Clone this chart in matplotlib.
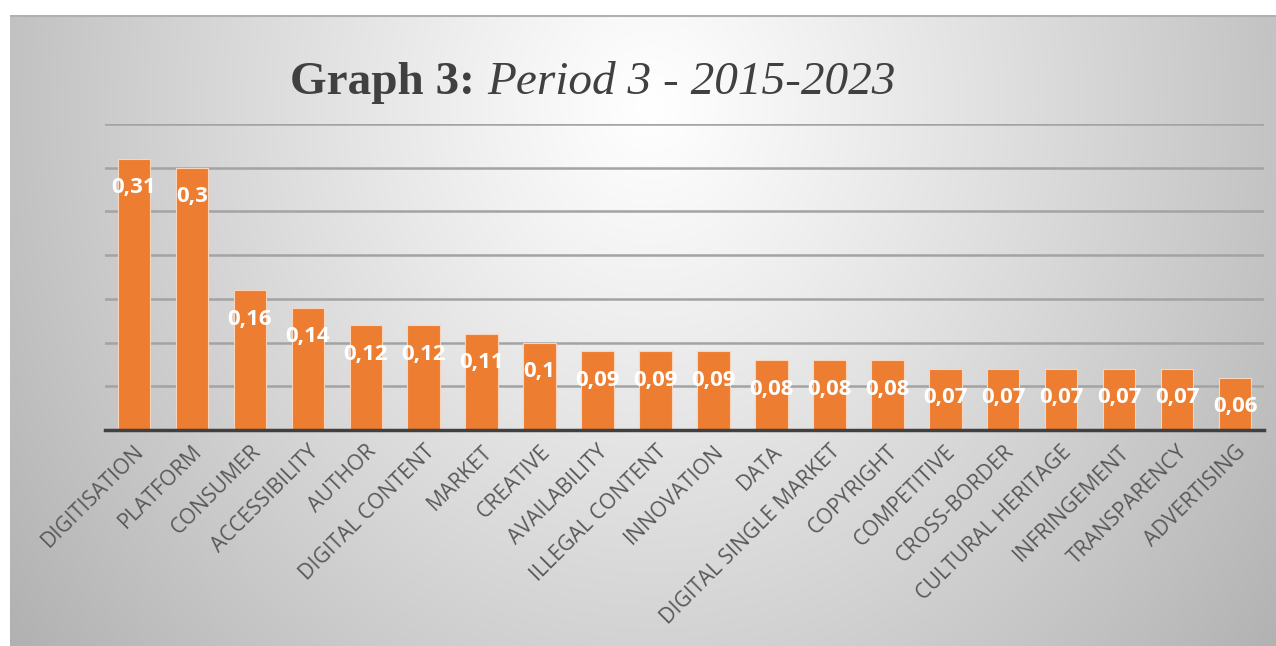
import numpy as np
import matplotlib
matplotlib.use("Agg")
import matplotlib.pyplot as plt

categories = ["DIGITISATION", "PLATFORM", "CONSUMER", "ACCESSIBILITY", "AUTHOR",
              "DIGITAL CONTENT", "MARKET", "CREATIVE", "AVAILABILITY", "ILLEGAL CONTENT",
              "INNOVATION", "DATA", "DIGITAL SINGLE MARKET", "COPYRIGHT", "COMPETITIVE",
              "CROSS-BORDER", "CULTURAL HERITAGE", "INFRINGEMENT", "TRANSPARENCY", "ADVERTISING"]
values = [0.31, 0.30, 0.16, 0.14, 0.12, 0.12, 0.11, 0.10, 0.09, 0.09,
          0.09, 0.08, 0.08, 0.08, 0.07, 0.07, 0.07, 0.07, 0.07, 0.06]
title_bold = "Graph 3:"
title_italic = "Period 3 - 2015-2023"

W, H = 1276, 646
fig = plt.figure(figsize=(W / 100, H / 100), dpi=100)
fig.patch.set_facecolor("white")

# background panel with radial gradient
bx0, by0 = 10 / W, 0.0
bw, bh = 1 - bx0, 1 - 15 / H
bg = fig.add_axes([bx0, by0, bw, bh])
bg.set_axis_off()
yy, xx = np.mgrid[0:631, 0:1266]
d = np.sqrt(((xx - 640) / 640.0) ** 2 + ((yy - 90) / 720.0) ** 2)
g = np.clip(1.0 - 0.24 * d ** 1.1, 0, 1)
img = np.dstack([g, g, g])
bg.imshow(img, aspect="auto", extent=[0, 1, 0, 1], origin="upper")
bg.set_xlim(0, 1)
bg.set_ylim(0, 1)
bg.plot([0, 1], [0.998, 0.998], color="#b0b0b0", lw=1.5)

# main axes
left = 105 / W
right = 1264 / W
bottom = 1 - 430 / H
top = 1 - 124 / H
ax = fig.add_axes([left, bottom, right - left, top - bottom])
ax.set_facecolor("none")
x = np.arange(len(categories))
ax.set_xlim(-0.5, len(categories) - 0.5)
ax.set_ylim(0, 0.35)
ax.set_yticks(np.arange(0.05, 0.351, 0.05))
ax.yaxis.grid(True, color="#a3a3a3", lw=1.8)
ax.set_axisbelow(True)
for s in ["top", "right", "left"]:
    ax.spines[s].set_visible(False)
ax.spines["bottom"].set_color("#404040")
ax.spines["bottom"].set_linewidth(2.5)
ax.spines["bottom"].set_zorder(5)
ax.tick_params(axis="y", left=False, labelleft=False)
ax.tick_params(axis="x", length=0, pad=8)

bars = ax.bar(x, values, width=0.56, color="#ED7D31", edgecolor="#F9D5BD", linewidth=0.8, zorder=3)

ax.set_xticks(x)
ax.set_xticklabels(categories, rotation=45, ha="right", rotation_mode="anchor",
                   fontsize=15.3, color="#595959", family="Open Sans")

for xi, v in zip(x, values):
    lab = ("%g" % v).replace(".", ",")
    ax.annotate(lab, (xi, v), xytext=(0, -29), textcoords="offset pixels",
                ha="center", va="center", color="white", fontsize=16,
                fontweight="bold", family="Open Sans", zorder=6)

# title
fig.canvas.draw()
r = fig.canvas.get_renderer()
t1 = fig.text(290 / W, 1 - 94 / H, title_bold + " ", fontsize=34, fontweight="bold",
              family="Liberation Serif", color="#404040", va="baseline", ha="left")
bb = t1.get_window_extent(renderer=r)
fig.text(bb.x1 / W, 1 - 94 / H, title_italic, fontsize=34, style="italic",
         family="Liberation Serif", color="#404040", va="baseline", ha="left")

fig.savefig("out.png", dpi=100, facecolor="white")
